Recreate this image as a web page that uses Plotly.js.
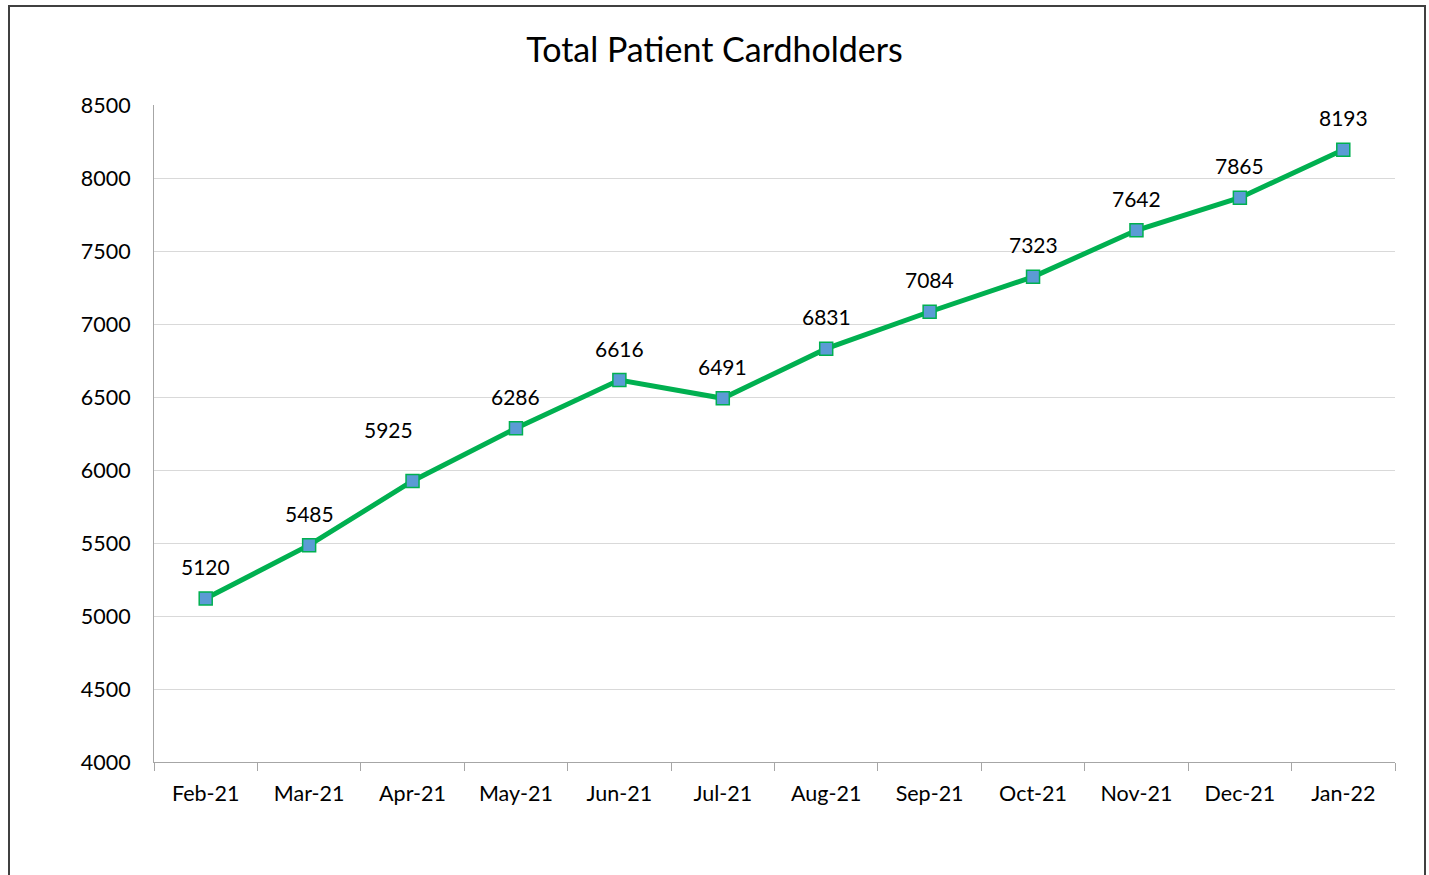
<!DOCTYPE html>
<html>
<head>
<meta charset="utf-8">
<script src="https://cdn.plot.ly/plotly-3.0.1.min.js"></script>
<style>
html,body{margin:0;padding:0;background:#fff;}
#wrap{position:relative;width:1429px;height:875px;overflow:hidden;}
#chart{width:1429px;height:875px;}
#frame{position:absolute;left:8px;top:5px;width:1414px;height:900px;border:2px solid #404040;pointer-events:none;}
</style>
</head>
<body>
<div id="wrap">
<div id="chart"></div>
<div id="frame"></div>
</div>
<script>
const months = ["Feb-21","Mar-21","Apr-21","May-21","Jun-21","Jul-21","Aug-21","Sep-21","Oct-21","Nov-21","Dec-21","Jan-22"];
const cardholders = [5120,5485,5925,6286,6616,6491,6831,7084,7323,7642,7865,8193];
const yTicks = [4000,4500,5000,5500,6000,6500,7000,7500,8000,8500];

const font = "Lato, 'Open Sans', sans-serif";

const labels = months.map((m, i) => {
  const moved = (m === "Apr-21"); // this label sits up and to the left in the original
  return {
    x: m, y: cardholders[i], xref: 'x', yref: 'y',
    text: String(cardholders[i]), showarrow: false,
    xshift: moved ? -24 : 0,
    yshift: moved ? 51 : 32,
    font: {family: font, size: 21, color: '#000'}
  };
});

Plotly.newPlot('chart', [{
  type: 'scatter',
  mode: 'lines+markers',
  x: months,
  y: cardholders,
  line: {color: '#00B050', width: 5},
  marker: {symbol: 'square', size: 13, color: '#5B9BD5', line: {color: '#00B050', width: 1.5}},
  cliponaxis: false,
  hoverinfo: 'x+y'
}], {
  width: 1429, height: 875,
  margin: {l: 154, r: 34, t: 105, b: 113},
  paper_bgcolor: '#fff', plot_bgcolor: '#fff',
  showlegend: false,
  annotations: labels,
  title: {text: 'Total Patient Cardholders', font: {family: font, size: 34, color: '#000'}, x: 0.5, xanchor: 'center', y: 0.943, yanchor: 'middle'},
  xaxis: {
    type: 'category',
    range: [-0.5, 11.5],
    tickson: 'boundaries',
    ticks: 'outside', ticklen: 8, tickcolor: '#a6a6a6', tickwidth: 1,
    showline: true, linecolor: '#a6a6a6', linewidth: 1,
    showgrid: false,
    ticklabelstandoff: 12,
    tickfont: {family: font, size: 21.5, color: '#000'},
    fixedrange: true
  },
  yaxis: {
    range: [4000, 8500],
    tickvals: yTicks,
    ticktext: yTicks.map(String),
    showline: true, linecolor: '#a6a6a6', linewidth: 1,
    showgrid: true, gridcolor: '#d9d9d9', gridwidth: 1,
    zeroline: false,
    ticks: '',
    ticklabelstandoff: 18,
    tickfont: {family: font, size: 21.5, color: '#000'},
    fixedrange: true
  }
}, {displayModeBar: false, staticPlot: true});
</script>
</body>
</html>
